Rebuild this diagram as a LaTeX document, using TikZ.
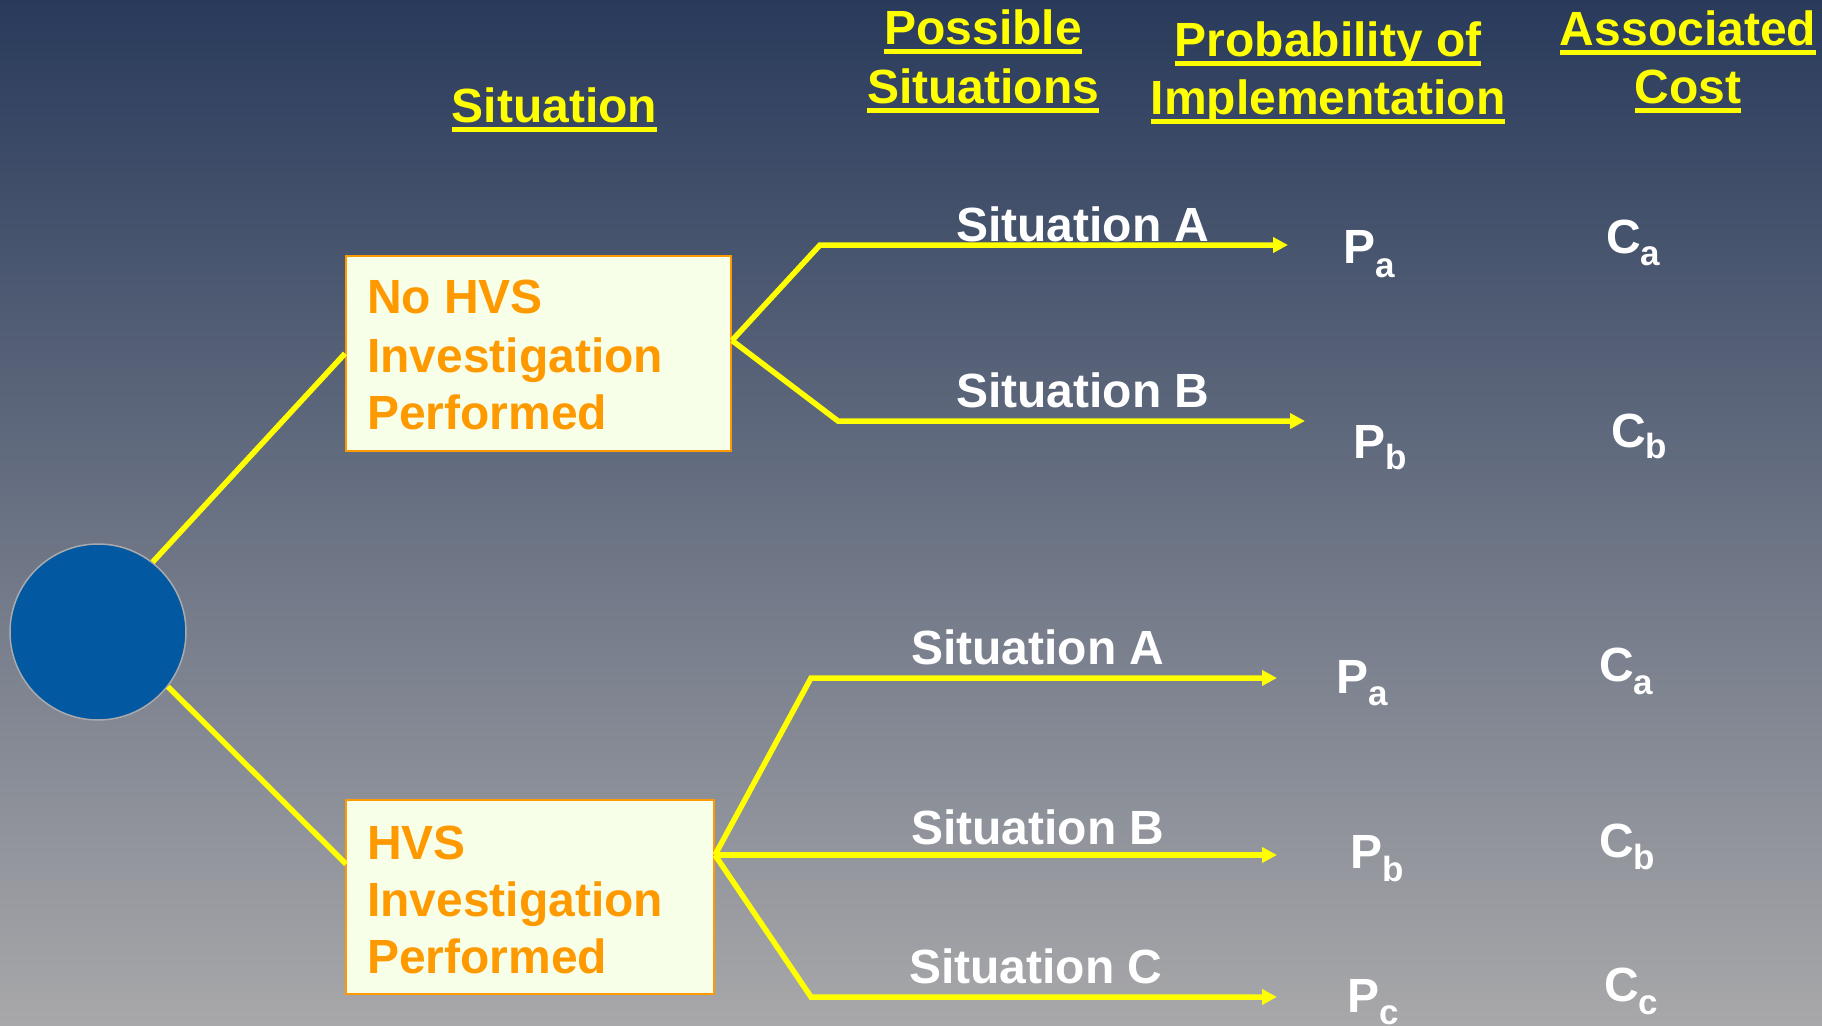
\documentclass[tikz,border=0pt]{standalone}
\usepackage{fontspec}
\setmainfont{Liberation Sans}
\usetikzlibrary{arrows.meta}
\definecolor{bgtop}{RGB}{41,58,91}
\definecolor{bgmid}{RGB}{116,120,133}
\definecolor{bgbot}{RGB}{168,168,170}
\definecolor{ylw}{RGB}{255,255,0}
\definecolor{org}{RGB}{255,153,0}
\definecolor{cream}{RGB}{248,255,232}
\definecolor{circblue}{RGB}{3,89,161}
\definecolor{circrim}{RGB}{170,170,172}
\newcommand\lowsub[2]{\raisebox{-#1pt}{\fontsize{35}{35}\selectfont #2}}
\begin{document}
\begin{tikzpicture}[x=1pt,y=-1pt,
 txt/.style={inner sep=0pt,outer sep=0pt,font=\fontsize{48}{58}\selectfont\bfseries},
 hdr/.style={txt,text=ylw,anchor=base},
 lbl/.style={txt,text=white,anchor=base west},
 boxtxt/.style={txt,text=org,anchor=base west},
 box/.style={draw=org,fill=cream,line width=2pt,inner sep=0pt},
 conn/.style={draw=ylw,line width=5.5pt},
 arr/.style={conn,-{Triangle[length=15pt,width=15pt]}},
 uline/.style={draw=ylw,line width=5pt},
]
\useasboundingbox (0,0) rectangle (1822,1025);
\shade[top color=bgtop,middle color=bgmid,bottom color=bgbot] (0,0) rectangle (1822,1025);

% headers
\node[hdr] (h1) at (554.5,122) {Situation};
\node[hdr] (h2a) at (983,45) {Possible};
\node[hdr] (h2b) at (983,103.5) {Situations};
\node[hdr] (h3a) at (1328,56.5) {Probability of};
\node[hdr] (h3b) at (1328,114.5) {Implementation};
\node[hdr] (h4a) at (1688,45.5) {Associated};
\node[hdr] (h4b) at (1688,103.5) {Cost};
\foreach \h in {h1,h2a,h2b,h3a,h3b,h4a,h4b}{
  \draw[uline] ([yshift=-7pt]\h.base west) -- ([yshift=-7pt]\h.base east);
}

% root circle and boxes
\node[circle,minimum size=176pt,inner sep=0pt,fill=circblue,draw=circrim,line width=1.5pt] (circ) at (98,632) {};
\node[box,minimum width=385pt,minimum height=195pt] (box1) at (538.5,353.5) {};
\node[box,minimum width=368pt,minimum height=194pt] (box2) at (530,897) {};

\node[boxtxt] (b1l1) at (367,313) {No HVS};
\node[boxtxt] (b1l2) at (367,372) {Investigation};
\node[boxtxt] (b1l3) at (367,429) {Performed};
\node[boxtxt] (b2l1) at (367,859) {HVS};
\node[boxtxt] (b2l2) at (367,916) {Investigation};
\node[boxtxt] (b2l3) at (367,973) {Performed};

% connectors from root
\coordinate (b2in) at (346,864);
\draw[conn] (circ.52) -- (box1.west);
\draw[conn] (circ.-38) -- (b2in);

% branches of box1
\coordinate (br1) at ([yshift=13pt]box1.east);
\coordinate (k1) at (820,245);
\coordinate (e1) at (1288,245);
\coordinate (k2) at (838,421);
\coordinate (e2) at (1305,421);
\draw[arr] (br1) -- (k1) -- (e1);
\draw[arr] (br1) -- (k2) -- (e2);

% branches of box2
\coordinate (br2) at ([yshift=42pt]box2.east);
\coordinate (k3) at (811,678);
\coordinate (e3) at (1277,678);
\coordinate (e4) at (1277,855);
\coordinate (k5) at (811,997);
\coordinate (e5) at (1277,997);
\draw[arr] (br2) -- (k3) -- (e3);
\draw[arr] (br2) -- (e4);
\draw[arr] (br2) -- (k5) -- (e5);

% situation labels
\node[lbl] (sA1) at (956,241) {Situation A};
\node[lbl] (sB1) at (956,407) {Situation B};
\node[lbl] (sA2) at (911,664) {Situation A};
\node[lbl] (sB2) at (911,844) {Situation B};
\node[lbl] (sC2) at (909,983) {Situation C};

% probabilities and costs
\node[lbl] (pa1) at (1343,263) {P\lowsub{14}{a}};
\node[lbl] (ca1) at (1606,253) {C\lowsub{12}{a}};
\node[lbl] (pb1) at (1353,458) {P\lowsub{11}{b}};
\node[lbl] (cb1) at (1611,447) {C\lowsub{11}{b}};
\node[lbl] (pa2) at (1336,693) {P\lowsub{12}{a}};
\node[lbl] (ca2) at (1599,681) {C\lowsub{13}{a}};
\node[lbl] (pb2) at (1350,868) {P\lowsub{13}{b}};
\node[lbl] (cb2) at (1599,857) {C\lowsub{12}{b}};
\node[lbl] (pc2) at (1347,1012) {P\lowsub{12}{c}};
\node[lbl] (cc2) at (1604,1001) {C\lowsub{13}{c}};
\end{tikzpicture}
\end{document}
